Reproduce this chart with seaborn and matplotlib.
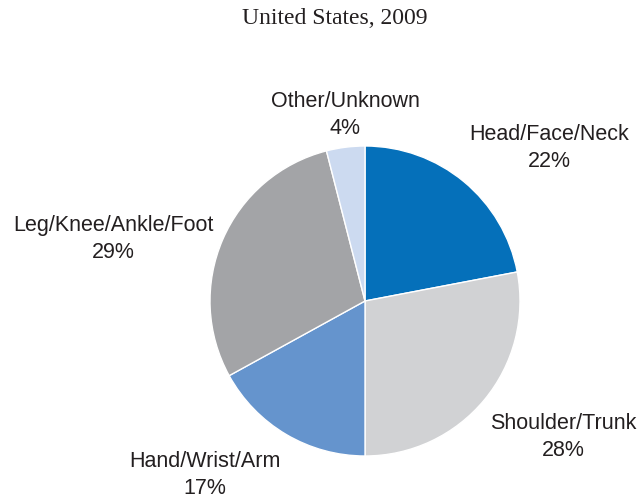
import matplotlib
matplotlib.use("Agg")
import matplotlib.pyplot as plt
import seaborn as sns

# data
parts = ["Head/Face/Neck", "Shoulder/Trunk", "Hand/Wrist/Arm",
         "Leg/Knee/Ankle/Foot", "Other/Unknown"]
shares = [22, 28, 17, 29, 4]
colours = ["#0570BA", "#D1D2D4", "#6594CD", "#A3A4A7", "#CCDAF0"]
title = "United States, 2009"

sns.set_theme(style="white")
plt.rcParams['font.family'] = ['Liberation Sans', 'DejaVu Sans']
txt = "#231F20"

fig = plt.figure(figsize=(6.39, 5.01), dpi=100)
ax = fig.add_axes([0, 0, 1, 1])

ax.pie(shares, colors=sns.color_palette(colours), startangle=90,
       counterclock=False, center=(365, 200), radius=155,
       wedgeprops=dict(edgecolor="white", linewidth=1.0), frame=True)
ax.set_xlim(0, 639)
ax.set_ylim(0, 501)
ax.set_aspect("equal")
ax.axis("off")

# label spots (pixel space, y from top)
spots = [(549, 148), (563, 437), (205, 475), (113, 239), (345, 115)]
for name, val, (x, y) in zip(parts, shares, spots):
    ax.text(x, 501 - y, f"{name}\n{val}%", ha="center", va="center",
            fontsize=15.5, color=txt, linespacing=1.4)

fig.text(335 / 639, 1 - 19 / 501, title, ha="center", va="center",
         fontsize=17, family=["Liberation Serif", "DejaVu Serif"], color=txt)

fig.savefig("out.png", dpi=100)
